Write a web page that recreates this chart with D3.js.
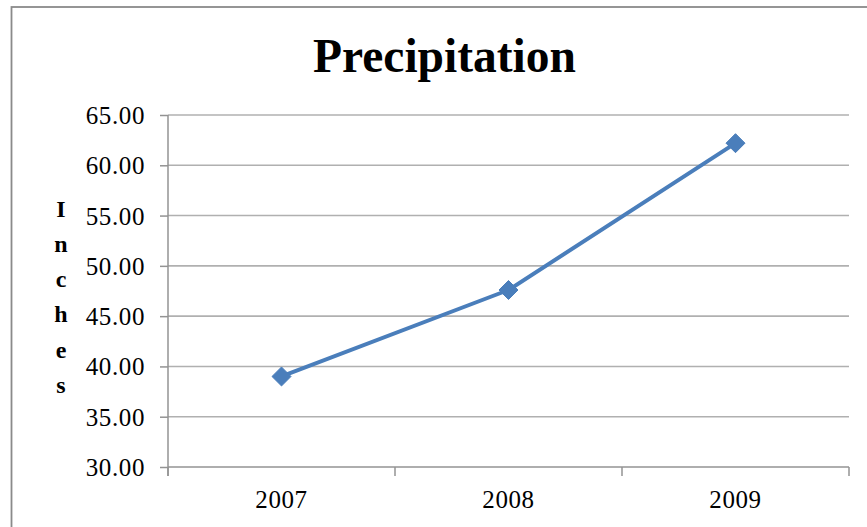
<!DOCTYPE html>
<html>
<head>
<meta charset="utf-8">
<script src="https://cdn.jsdelivr.net/npm/d3@7"></script>
<style>
  html, body { margin: 0; padding: 0; background: #fff; }
  svg { display: block; }
  text { font-family: "Liberation Serif", "Times New Roman", serif; fill: #000; }
</style>
</head>
<body>
<svg id="chart" width="867" height="527"></svg>
<script>
// Annual precipitation totals
const years = ["2007", "2008", "2009"];
const inches = [39.0, 47.6, 62.2];
const yTicks = [30, 35, 40, 45, 50, 55, 60, 65];
const title = "Precipitation";
const axisTitle = "Inches";

const svg = d3.select("#chart");
const W = 867, H = 527;
const plot = { left: 168, right: 849, top: 115, bottom: 467 };

// Chart frame (extends past the right and bottom edges)
svg.append("rect")
  .attr("x", 11.5).attr("y", 7)
  .attr("width", W + 20).attr("height", H + 20)
  .attr("fill", "#fff")
  .attr("stroke", "#8a8a8a")
  .attr("stroke-width", 1.8);

const x = d3.scaleBand().domain(years).range([plot.left, plot.right]).padding(0);
const y = d3.scaleLinear().domain([30, 65]).range([plot.bottom, plot.top]);

// Horizontal gridlines
svg.append("g")
  .selectAll("line")
  .data(yTicks.filter(d => d !== 30))
  .join("line")
  .attr("x1", plot.left).attr("x2", plot.right)
  .attr("y1", d => y(d)).attr("y2", d => y(d))
  .attr("stroke", "#b0b0b0")
  .attr("stroke-width", 1.6);

// Y axis
const yAxis = d3.axisLeft(y)
  .tickValues(yTicks)
  .tickFormat(d3.format(".2f"))
  .tickSize(8)
  .tickPadding(15);
const gy = svg.append("g")
  .attr("transform", `translate(${plot.left},0)`)
  .call(yAxis);
gy.select(".domain").remove();
gy.selectAll(".tick line").attr("stroke", "#939393").attr("stroke-width", 1.5);
gy.append("line")
  .attr("x1", 0).attr("x2", 0)
  .attr("y1", plot.top).attr("y2", plot.bottom + 9)
  .attr("stroke", "#939393").attr("stroke-width", 1.5);
gy.selectAll(".tick text")
  .attr("font-family", "Liberation Serif, Times New Roman, serif")
  .attr("font-size", 25)
  .attr("letter-spacing", 0.6)
  .attr("fill", "#000")
  .attr("dy", "0.34em");

// X axis with tick marks on category boundaries
const gx = svg.append("g").attr("transform", `translate(0,${plot.bottom})`);
gx.append("line")
  .attr("x1", plot.left).attr("x2", plot.right)
  .attr("y1", 0).attr("y2", 0)
  .attr("stroke", "#939393").attr("stroke-width", 1.5);
const bounds = years.map(d => x(d)).concat([x(years[years.length - 1]) + x.bandwidth()]);
gx.selectAll("line.tk")
  .data(bounds)
  .join("line")
  .attr("class", "tk")
  .attr("x1", d => d).attr("x2", d => d)
  .attr("y1", 0).attr("y2", 9)
  .attr("stroke", "#939393").attr("stroke-width", 1.5);
gx.selectAll("text")
  .data(years)
  .join("text")
  .attr("x", d => x(d) + x.bandwidth() / 2)
  .attr("y", 41)
  .attr("text-anchor", "middle")
  .attr("font-size", 25)
  .attr("letter-spacing", 0.6)
  .text(d => d);

// Series line and diamond markers
const cx = d => x(d) + x.bandwidth() / 2;
const pts = years.map((d, i) => [cx(d), y(inches[i])]);
svg.append("path")
  .attr("d", d3.line()(pts))
  .attr("fill", "none")
  .attr("stroke", "#4a7ebb")
  .attr("stroke-width", 4)
  .attr("stroke-linejoin", "round");
svg.append("g")
  .selectAll("path")
  .data(pts)
  .join("path")
  .attr("transform", p => `translate(${p[0]},${p[1]})`)
  .attr("d", d3.symbol().type(d3.symbolDiamond2).size(230)())
  .attr("fill", "#4a7ebb")
  .attr("stroke", "#4a7ebb")
  .attr("stroke-width", 1);

// Title
svg.append("text")
  .attr("x", 444.5)
  .attr("y", 72)
  .attr("text-anchor", "middle")
  .attr("font-size", 47.5)
  .attr("font-weight", "bold")
  .text(title);

// Vertical, stacked axis title
svg.append("g")
  .selectAll("text")
  .data(axisTitle.split(""))
  .join("text")
  .attr("x", 61)
  .attr("y", (d, i) => 216.5 + i * 35.3)
  .attr("text-anchor", "middle")
  .attr("font-size", 24)
  .attr("font-weight", "bold")
  .text(d => d);
</script>
</body>
</html>
